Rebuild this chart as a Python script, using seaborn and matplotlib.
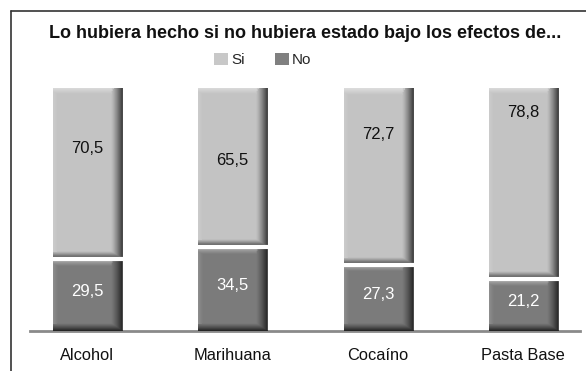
import numpy as np
import pandas as pd
import matplotlib
matplotlib.use("Agg")
import matplotlib.pyplot as plt
import seaborn as sns
from matplotlib.patches import Patch
from matplotlib.lines import Line2D

categories = ["Alcohol", "Marihuana", "Cocaíno", "Pasta Base"]
si_values = [70.5, 65.5, 72.7, 78.8]
no_values = [29.5, 34.5, 27.3, 21.2]
si_labels = ["70,5", "65,5", "72,7", "78,8"]
no_labels = ["29,5", "34,5", "27,3", "21,2"]
title = "Lo hubiera hecho si no hubiera estado bajo los efectos de..."

# label placement (layout only)
si_label_y = [75, 70, 81, 90]

SI_COLOR = "#c3c3c3"
NO_COLOR = "#7b7b7b"
FONT = ["Liberation Sans", "DejaVu Sans"]

sns.set_theme(style="white")
plt.rcParams["font.family"] = FONT

df = pd.DataFrame({"cat": categories, "si": si_values, "no": no_values})

fig = plt.figure(figsize=(5.86, 3.71), dpi=100)
W, H = 586, 371
ax = fig.add_axes([30 / W, (H - 331) / H, 550 / W, 243 / H])

sns.barplot(data=df, x="cat", y="no", color=NO_COLOR, width=0.475,
            saturation=1, errorbar=None, ax=ax, zorder=2, linewidth=0)
sns.barplot(data=df, x="cat", y="si", bottom=df["no"].values, color=SI_COLOR,
            width=0.475, saturation=1, errorbar=None, ax=ax, zorder=2, linewidth=0)

ax.set_xlim(-0.395, 3.39)
ax.set_ylim(0, 100)


def bevel(patch):
    x0, y0 = patch.get_x(), patch.get_y()
    w, h = patch.get_width(), patch.get_height()
    p0 = ax.transData.transform((x0, y0))
    p1 = ax.transData.transform((x0 + w, y0 + h))
    wp = max(int(round(p1[0] - p0[0])), 2)
    hp = max(int(round(p1[1] - p0[1])), 2)
    X, Y = np.meshgrid(np.arange(wp) + 0.5, np.arange(hp) + 0.5)
    r, b, t, l = 12.0, 8.0, 7.0, 5.0
    dark_r = np.clip((X - (wp - r)) / r, 0, 1) ** 1.3 * 0.75
    dark_b = np.clip((Y - (hp - b)) / b, 0, 1) ** 1.2 * 0.75
    dark = np.maximum(dark_r, dark_b)
    light_t = np.clip(1 - Y / t, 0, 1) * 0.45
    light_l = np.clip(1 - X / l, 0, 1) * 0.15
    light = np.maximum(light_t, light_l)
    light = np.where(dark > 0.05, light * 0.3, light)
    img = np.zeros((hp, wp, 4))
    use_dark = dark >= light
    img[..., :3] = np.where(use_dark[..., None], 0.0, 1.0)
    img[..., 3] = np.where(use_dark, dark, light)
    ax.imshow(img, extent=(x0, x0 + w, y0, y0 + h), origin="upper",
              aspect="auto", zorder=3, interpolation="bilinear")


for p in list(ax.patches):
    bevel(p)

# white gap between segments
for i, n in enumerate(no_values):
    ax.hlines(n, i - 0.25, i + 0.25, color="white", lw=3, zorder=4)

for i in range(len(categories)):
    ax.text(i, si_label_y[i], si_labels[i], ha="center", va="center",
            fontsize=12, color="#111111", zorder=5)
    ax.text(i, no_values[i] / 2 + 1.5, no_labels[i], ha="center", va="center",
            fontsize=12, color="white", zorder=5)

ax.set_xlim(-0.395, 3.39)
ax.set_ylim(0, 100)
ax.set_xlabel("")
ax.set_ylabel("")
ax.set_yticks([])
ax.tick_params(axis="x", length=0, pad=12, labelsize=11.8, colors="#111111")
for s in ["top", "right", "left"]:
    ax.spines[s].set_visible(False)
ax.spines["bottom"].set_color("#8a8a8a")
ax.spines["bottom"].set_linewidth(2)
ax.spines["bottom"].set_zorder(1)

# frame lines (left and top)
fig.add_artist(Line2D([11 / W, 11 / W], [0, 1 - 11 / H], color="#333333", lw=1.2))
fig.add_artist(Line2D([11 / W, 1], [1 - 11 / H, 1 - 11 / H], color="#333333", lw=1.2))

fig.text(305 / W, 1 - 33 / H, title, ha="center", va="center",
         fontsize=13, fontweight="bold", color="#111111")

handles = [Patch(facecolor="#c8c8c8", edgecolor="none", label="Si"),
           Patch(facecolor="#808080", edgecolor="none", label="No")]
fig.legend(handles=handles, loc="center", bbox_to_anchor=(263 / W, 1 - 60 / H),
           ncol=2, frameon=False, fontsize=11, handlelength=0.9, handleheight=0.9,
           handletextpad=0.2, columnspacing=2.0)

fig.savefig("out.png", dpi=100)
